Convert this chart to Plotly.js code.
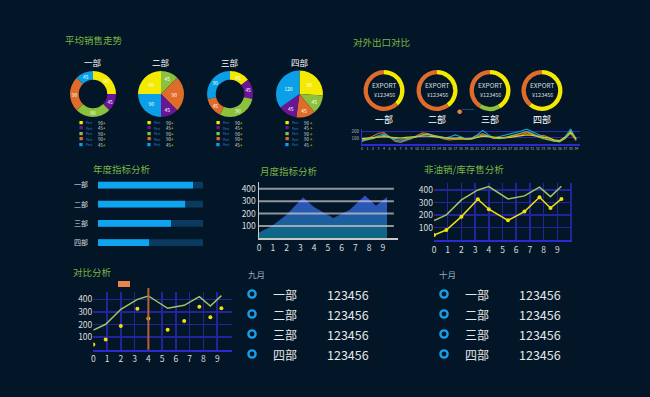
<!DOCTYPE html>
<html><head><meta charset="utf-8">
<script src="https://cdn.plot.ly/plotly-3.0.1.min.js"></script>
<style>html,body{margin:0;padding:0;background:#021627;}#chart{width:650px;height:397px;}</style>
</head><body><div id="chart"></div>
<script>
// ---------- DATA ----------
const partLabels = ['Part1','Part2','Part3','Part4','Part5'];
const legendValues = ['90','45','90','90','45'];
const pieNames = ['一部','二部','三部','四部'];
// pie slices (clockwise from 12 o'clock)
const pie1Labels = ['yellow','purple','green','orange','blue'];
const pie1Values = [90,45,90,90,45];
const pie2Labels = ['green','orange','purple','blue','yellow'];
const pie2Values = [45,90,45,90,90];
const pie3Labels = ['yellow','purple','green','orange','blue'];
const pie3Values = [45,45,90,45,90];
const pie4Labels = ['yellow','green','orange','purple','blue'];
const pie4Values = [90,45,45,45,120];

const exportNames = ['一部','二部','三部','四部'];
const exportAmount = '¥123456';
const export1Labels = ['yellow','orange'];  const export1Values = [38,62];
const export2Labels = ['yellow','orange'];  const export2Values = [40,60];
const export3Labels = ['yellow','green','orange']; const export3Values = [42,17,41];
const export4Labels = ['yellow','orange'];  const export4Values = [61,39];

const trendX = [];
for (let i = 0; i < 40; i++) trendX.push(i);
const trendOrange = [40,80,130,175,185,120,50,30,60,90,140,180,170,140,100,80,70,75,85,95,100,140,170,130,90,100,110,120,130,150,180,150,130,140,110,60,40,100,170,60];
const trendCyan   = [60,70,100,140,160,120,70,50,70,90,120,150,160,130,110,95,120,150,120,80,100,150,220,150,100,120,140,160,180,210,240,200,150,110,80,50,40,120,240,80];
const trendYellow = [90,100,110,115,120,115,105,100,110,120,125,130,130,120,110,100,95,90,85,80,90,110,130,120,110,105,100,110,120,130,150,140,120,110,100,70,60,110,190,90];
const trendGreen  = [70,75,90,120,140,110,90,80,90,100,120,150,160,140,120,100,90,100,110,80,80,120,150,130,100,90,100,130,150,170,200,170,120,90,70,50,45,90,210,70];

const barCategories = ['一部','二部','三部','四部'];
const barValues = [90.5,83,69.5,48.6];
const barTrack = [100,100,100,100];
const barTexts = ['0.6','7.1','5.5','4.5'];

const monthX = [0,0.9,2,3.2,4,5.4,6.6,7.7,8.5,9.3];
const monthValues = [45,94,188,327,250,161,228,344,260,331];

const lineX = [0,0.9,2,3.2,4,5.4,6.6,7.7,8.5,9.3];
const salesValues = [42,82,188,326,247,159,228,342,257,329];
const stockValues = [156,202,321,400,427,329,353,422,347,430];

const xTicks = [0,1,2,3,4,5,6,7,8,9];
const yTicks = [100,200,300,400];

const tableDepts = ['一部','二部','三部','四部'];
const septValues = ['123456','123456','123456','123456'];
const octValues = ['123456','123456','123456','123456'];

// ---------- STYLE ----------
const W = 650, H = 397;
const px = x => x / W, py = y => 1 - y / H;
const COL = {yellow:'#f4ea00', purple:'#6a1496', green:'#8cc13e', orange:'#e06c2a', blue:'#0a9fe6'};
const legendColors = [COL.yellow, COL.purple, COL.green, COL.orange, COL.blue];
const titleColor = '#7db443';
const FONT = "'Noto Sans CJK SC', 'Noto Sans', sans-serif";

const traces = [];
const annotations = [];
const shapes = [];
function ann(text, x, y, size, color, xanchor) {
  annotations.push({text:text, x:px(x), y:py(y), xref:'paper', yref:'paper', showarrow:false,
    xanchor:xanchor||'center', yanchor:'middle', font:{size:size, color:color, family:FONT}, borderpad:0});
}

// pies
const pies = [
  {labels:pie1Labels, values:pie1Values, cx:93, cy:94, r:23, hole:0.62},
  {labels:pie2Labels, values:pie2Values, cx:161, cy:94, r:23, hole:0},
  {labels:pie3Labels, values:pie3Values, cx:230, cy:94, r:23, hole:0.62},
  {labels:pie4Labels, values:pie4Values, cx:299.5, cy:94, r:23.5, hole:0}
];
pies.forEach((p, i) => {
  traces.push({type:'pie', labels:p.labels, values:p.values, sort:false, direction:'clockwise', rotation:0,
    hole:p.hole, marker:{colors:p.labels.map(l => COL[l]), line:{width:0}},
    textinfo:'value', textposition:'inside', insidetextorientation:'horizontal',
    textfont:{size:5, color:'#ffffff', family:FONT}, hoverinfo:'none', showlegend:false,
    domain:{x:[px(p.cx - p.r), px(p.cx + p.r)], y:[py(p.cy + p.r), py(p.cy - p.r)]}});
  ann(pieNames[i], p.cx, 61.7, 8.5, '#ffffff');
  const rows = [122.8, 128.3, 133.8, 139.3, 144.8];
  rows.forEach((ry, j) => {
    ann('■', p.cx - 12.4, ry, 4, legendColors[j]);
    ann('Part', p.cx - 4, ry, 3.2, '#2a86d6');
    ann(legendValues[j], p.cx + 7, ry, 4.3, '#dddddd');
    ann('+', p.cx + 11.8, ry, 4.3, '#f0e010');
  });
});

// export donuts
const exportsArr = [
  {labels:export1Labels, values:export1Values, cx:384},
  {labels:export2Labels, values:export2Values, cx:437},
  {labels:export3Labels, values:export3Values, cx:490},
  {labels:export4Labels, values:export4Values, cx:542}
];
exportsArr.forEach((d, i) => {
  const cy = 90.5, r = 20.5;
  traces.push({type:'pie', labels:d.labels, values:d.values, sort:false, direction:'clockwise', rotation:0,
    hole:0.79, marker:{colors:d.labels.map(l => COL[l]), line:{width:0}}, textinfo:'none',
    hoverinfo:'none', showlegend:false,
    domain:{x:[px(d.cx - r), px(d.cx + r)], y:[py(cy + r), py(cy - r)]}});
  ann('EXPORT', d.cx, 85, 6.5, '#dddddd');
  ann(exportAmount, d.cx, 94.5, 5.5, '#dddddd');
  ann(exportNames[i], d.cx, 119.3, 9, '#ffffff');
});
// little tooltip marker near third donut
ann('●', 459.5, 110.5, 5, '#e8804a');
ann('━━━', 468, 110.5, 4, '#2a7fb0');

// small trend chart
[[trendOrange,'#e8702a'],[trendCyan,'#12b2ea'],[trendYellow,'#f0e010'],[trendGreen,'#9bc34a']].forEach(s => {
  traces.push({type:'scatter', mode:'lines', x:trendX, y:s[0], xaxis:'x5', yaxis:'y5',
    line:{color:s[1], width:1.2}, opacity:0.9, hoverinfo:'none', showlegend:false});
});

// bar chart
traces.push({type:'bar', orientation:'h', x:barTrack, y:barCategories, xaxis:'x', yaxis:'y',
  marker:{color:'#0b3a61'}, width:0.35, hoverinfo:'none', showlegend:false});
traces.push({type:'bar', orientation:'h', x:barValues, y:barCategories, xaxis:'x', yaxis:'y',
  marker:{color:'#0ea4f0'}, width:0.35, hoverinfo:'none', showlegend:false});
barCategories.forEach((c, i) => {
  annotations.push({text:barTexts[i], x:107.5, y:c, xref:'x', yref:'y', showarrow:false, xanchor:'left',
    yanchor:'middle', font:{size:8.5, color:'#cccccc', family:FONT}});
});

// area chart
traces.push({type:'scatter', mode:'lines', x:monthX, y:monthValues, xaxis:'x2', yaxis:'y2',
  fill:'tozeroy', line:{color:'#3a4fd0', width:0.5},
  fillgradient:{type:'vertical', start:0, stop:350, colorscale:[[0,'#0b6a7c'],[1,'#3550cc']]},
  hoverinfo:'none', showlegend:false});
yTicks.forEach(v => {
  shapes.push({type:'line', xref:'x2 domain', yref:'y2', x0:0, x1:0.97, y0:v, y1:v,
    line:{color:'rgba(205,205,205,0.7)', width:2}, layer:'above'});
});

// right line chart
traces.push({type:'scatter', mode:'lines', x:lineX, y:stockValues, xaxis:'x3', yaxis:'y3',
  line:{color:'#a2c463', width:1.5}, hoverinfo:'none', showlegend:false});
traces.push({type:'scatter', mode:'lines+markers', x:lineX, y:salesValues, xaxis:'x3', yaxis:'y3',
  line:{color:'#f0e010', width:1.5}, marker:{color:'#f0e010', size:4}, hoverinfo:'none', showlegend:false});

// bottom-left chart
traces.push({type:'scatter', mode:'lines', x:lineX, y:stockValues, xaxis:'x4', yaxis:'y4',
  line:{color:'#a2c463', width:1.5}, hoverinfo:'none', showlegend:false});
traces.push({type:'scatter', mode:'markers', x:lineX, y:salesValues, xaxis:'x4', yaxis:'y4',
  marker:{color:'#f0e010', size:4}, hoverinfo:'none', showlegend:false});
shapes.push({type:'line', xref:'x4', yref:'paper', x0:4, x1:4, y0:py(349.7), y1:py(288),
  line:{color:'#b8603a', width:2}, layer:'above'});
shapes.push({type:'rect', xref:'paper', yref:'paper', x0:px(118), x1:px(130), y0:py(287), y1:py(281),
  fillcolor:'#e8844c', line:{width:0}});

// titles
ann('平均销售走势', 93.5, 40, 9.5, titleColor);
ann('对外出口对比', 381.5, 41.7, 9.5, titleColor);
ann('年度指标分析', 122, 169, 9.5, titleColor);
ann('月度指标分析', 289, 170.7, 9.5, titleColor);
ann('非油销/库存售分析', 463.5, 169, 9.5, titleColor);
ann('对比分析', 92.5, 272, 9.5, titleColor);

// tables
const rowsY = [294, 314, 334, 354];
ann('九月', 256, 274, 8.5, '#8fb0c0');
ann('十月', 447, 274, 8.5, '#8fb0c0');
tableDepts.forEach((d, i) => {
  const y = rowsY[i];
  [[252, 284.5, 348, septValues[i]], [444, 476.7, 540, octValues[i]]].forEach(t => {
    shapes.push({type:'circle', xref:'paper', yref:'paper', x0:px(t[0]-3.6), x1:px(t[0]+3.6),
      y0:py(y+3.6), y1:py(y-3.6), line:{color:'#189de8', width:2.4}});
    ann(d, t[1], y, 12, '#e6e6e6');
    ann(t[3], t[2], y, 12.5, '#e6e6e6');
  });
});

const blueGrid = '#23239c';
const axisFont = {size:8.5, color:'#dddddd', family:FONT};
const layout = {
  width:W, height:H, margin:{l:0, r:0, t:0, b:0},
  paper_bgcolor:'#021627', plot_bgcolor:'rgba(0,0,0,0)',
  font:{family:FONT, color:'#dddddd'}, showlegend:false, barmode:'overlay',
  xaxis:{domain:[px(98), px(203)], range:[0,100], visible:false, fixedrange:true, anchor:'y'},
  yaxis:{domain:[py(252.3), py(175.4)], type:'category', autorange:'reversed', showgrid:false,
    zeroline:false, showline:false, ticks:'', tickfont:{size:7, color:'#dddddd', family:FONT},
    ticklabelstandoff:9, anchor:'x'},
  xaxis2:{domain:[px(259), px(398)], range:[0,10.1], tickmode:'array', tickvals:xTicks, showgrid:false,
    zeroline:false, showline:true, linecolor:'#c8c8c8', linewidth:2, ticks:'', tickfont:axisFont, anchor:'y2'},
  yaxis2:{domain:[py(238.3), py(181.8)], range:[0,456], tickmode:'array', tickvals:yTicks, showgrid:false,
    zeroline:false, showline:true, linecolor:'#c8c8c8', linewidth:1.5, ticks:'', tickfont:axisFont, anchor:'x2'},
  xaxis3:{domain:[px(434), px(572.4)], range:[0,10.1], tickmode:'array', tickvals:[0,1,2,3,4,5,6,7,8,9,10],
    ticktext:['0','1','2','3','4','5','6','7','8','9',''], showgrid:true, gridcolor:blueGrid, gridwidth:1.5,
    zeroline:false, showline:true, linecolor:'#2a2ad0', linewidth:2, ticks:'', tickfont:axisFont, anchor:'y3'},
  yaxis3:{domain:[py(240.3), py(183.3)], range:[0,453], tickmode:'array', tickvals:yTicks, showgrid:true,
    gridcolor:blueGrid, gridwidth:1.5, zeroline:false, showline:false, ticks:'', tickfont:axisFont, anchor:'x3'},
  xaxis4:{domain:[px(93.3), px(231.7)], range:[0,10.05], tickmode:'array', tickvals:[0,1,2,3,4,5,6,7,8,9,10],
    ticktext:['0','1','2','3','4','5','6','7','8','9',''], showgrid:true, gridcolor:blueGrid, gridwidth:1.5,
    zeroline:false, showline:true, linecolor:'#2a2ad0', linewidth:2, ticks:'', tickfont:axisFont, anchor:'y4'},
  yaxis4:{domain:[py(349.7), py(291.7)], range:[0,461], tickmode:'array', tickvals:yTicks, showgrid:true,
    gridcolor:blueGrid, gridwidth:1.5, zeroline:false, showline:false, ticks:'', tickfont:axisFont, anchor:'x4'},
  xaxis5:{domain:[px(362), px(580)], range:[0,39.7], tickmode:'array', tickvals:trendX, tickangle:0,
    showgrid:false, zeroline:false, showline:true, linecolor:'#2a2ad0', linewidth:1.5, ticks:'',
    tickfont:{size:3.5, color:'#bbbbbb', family:FONT}, anchor:'y5'},
  yaxis5:{domain:[py(144.3), py(128.5)], range:[0,250], tickmode:'array', tickvals:[100,200], showgrid:true,
    gridcolor:'#2a2ab0', gridwidth:1, zeroline:false, showline:true, linecolor:'#2a2ad0', linewidth:1, ticks:'',
    ticklabelstandoff:1, tickfont:{size:4.5, color:'#bbbbbb', family:FONT}, anchor:'x5'},
  annotations:annotations, shapes:shapes
};
Plotly.newPlot('chart', traces, layout, {displayModeBar:false, staticPlot:true});
</script></body></html>
